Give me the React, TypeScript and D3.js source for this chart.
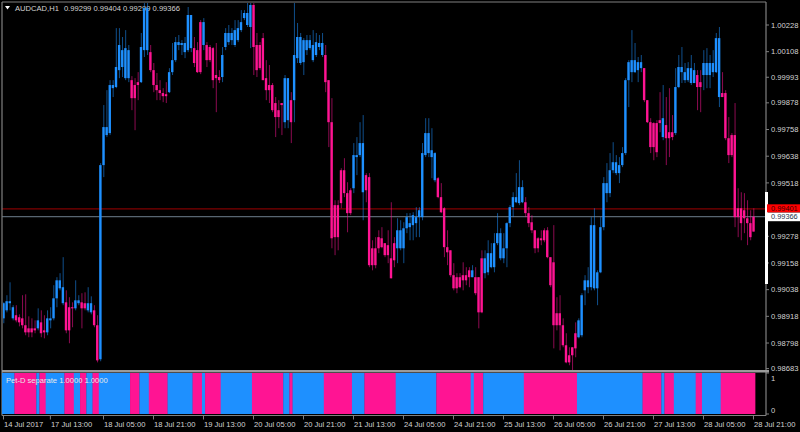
import React from 'react';
import * as d3 from 'd3';

const symbolTitle = 'AUDCAD,H1';
const headerValues = ['0.99299', '0.99404', '0.99299', '0.99366'];
const indicatorTitle = 'Pet-D separate 1.0000 1.0000';
const askPrice = 0.99401;
const bidPrice = 0.99366;

const highs = [
  0.98981, 0.99013, 0.99071, 0.98968, 0.98968, 0.98927, 0.99013, 0.99017, 0.98918, 0.98909,
  0.98900, 0.98954, 0.98945, 0.98923, 0.98945, 0.98959, 0.99058, 0.99094, 0.99112, 0.99184,
  0.99035, 0.99004, 0.98981, 0.99080, 0.99013, 0.99022, 0.99026, 0.99049, 0.99008, 0.98968,
  0.98923, 0.99607, 0.99868, 0.99935, 0.99980, 0.99980, 1.00214, 1.00214, 1.00174, 1.00205,
  1.00138, 0.99998, 0.99989, 1.00016, 1.00192, 1.00331, 1.00331, 1.00138, 1.00057, 1.00012,
  0.99980, 0.99944, 0.99971, 1.00034, 1.00147, 1.00174, 1.00183, 1.00160, 1.00174, 1.00309,
  1.00273, 1.00174, 1.00151, 1.00250, 1.00259, 1.00151, 1.00138, 1.00129, 1.00147, 1.00025,
  1.00129, 1.00214, 1.00228, 1.00214, 1.00250, 1.00250, 1.00295, 1.00295, 1.00331, 1.00327,
  1.00327, 1.00192, 1.00151, 1.00192, 1.00070, 1.00048, 0.99967, 0.99904, 0.99890, 0.99877,
  1.00003, 0.99989, 0.99926, 1.00331, 1.00237, 1.00192, 1.00169, 1.00183, 1.00183, 1.00205,
  1.00192, 1.00183, 1.00192, 1.00138, 0.99980, 0.99899, 0.99440, 0.99440, 0.99584, 0.99629,
  0.99521, 0.99494, 0.99697, 0.99724, 0.99791, 0.99823, 0.99562, 0.99562, 0.99260, 0.99274,
  0.99305, 0.99319, 0.99247, 0.99305, 0.99431, 0.99274, 0.99359, 0.99350, 0.99341, 0.99382,
  0.99382, 0.99386, 0.99409, 0.99409, 0.99697, 0.99809, 0.99809, 0.99764, 0.99656, 0.99544,
  0.99517, 0.99409, 0.99305, 0.99215, 0.99157, 0.99112, 0.99112, 0.99161, 0.99139, 0.99139,
  0.99148, 0.99139, 0.99094, 0.99215, 0.99215, 0.99260, 0.99247, 0.99292, 0.99382, 0.99314,
  0.99292, 0.99341, 0.99418, 0.99476, 0.99562, 0.99620, 0.99530, 0.99454, 0.99409, 0.99373,
  0.99305, 0.99274, 0.99305, 0.99314, 0.99319, 0.99184, 0.99328, 0.99004, 0.99013, 0.98909,
  0.98842, 0.98779, 0.98779, 0.98891, 0.98909, 0.99022, 0.99103, 0.99139, 0.99364, 0.99404,
  0.99125, 0.99364, 0.99544, 0.99607, 0.99652, 0.99701, 0.99643, 0.99634, 0.99679, 0.99989,
  1.00070, 1.00205, 1.00147, 1.00084, 1.00093, 1.00034, 0.99890, 0.99809, 0.99791, 0.99800,
  0.99926, 0.99958, 0.99904, 0.99944, 0.99823, 1.00034, 1.00093, 1.00129, 1.00057, 1.00061,
  1.00093, 1.00057, 1.00025, 1.00025, 1.00115, 1.00124, 1.00093, 1.00115, 1.00192, 1.00219,
  1.00016, 0.99935, 0.99814, 0.99742, 0.99877, 0.99494, 0.99476, 0.99472, 0.99440, 0.99395,
  0.99404,
];

const lows = [
  0.98887, 0.98936, 0.98945, 0.98900, 0.98891, 0.98873, 0.98864, 0.98833, 0.98824, 0.98824,
  0.98842, 0.98855, 0.98824, 0.98819, 0.98833, 0.98864, 0.98900, 0.98959, 0.99035, 0.98968,
  0.98842, 0.98797, 0.98869, 0.98945, 0.98968, 0.98864, 0.98945, 0.98936, 0.98927, 0.98869,
  0.98711, 0.98716, 0.99544, 0.99724, 0.99733, 0.99904, 0.99944, 0.99989, 0.99994, 0.99980,
  0.99971, 0.99845, 0.99755, 0.99890, 0.99967, 1.00084, 1.00093, 1.00016, 0.99926, 0.99890,
  0.99890, 0.99881, 0.99877, 0.99922, 1.00003, 1.00061, 1.00115, 1.00093, 1.00079, 1.00106,
  1.00106, 1.00039, 1.00012, 1.00007, 1.00115, 1.00039, 1.00061, 0.99944, 0.99836, 0.99967,
  0.99971, 1.00115, 1.00138, 1.00138, 1.00129, 1.00151, 1.00196, 1.00250, 1.00219, 1.00124,
  1.00003, 0.99994, 1.00025, 0.99980, 0.99890, 0.99877, 0.99836, 0.99724, 0.99764, 0.99733,
  0.99764, 0.99764, 0.99697, 0.99791, 1.00057, 1.00048, 1.00003, 1.00093, 1.00115, 1.00061,
  1.00084, 1.00115, 1.00084, 0.99926, 0.99679, 0.99224, 0.99193, 0.99215, 0.99404, 0.99454,
  0.99296, 0.99373, 0.99472, 0.99553, 0.99634, 0.99350, 0.99431, 0.99139, 0.99125, 0.99134,
  0.99202, 0.99224, 0.99184, 0.99157, 0.99089, 0.99139, 0.99157, 0.99215, 0.99157, 0.99292,
  0.99260, 0.99260, 0.99274, 0.99274, 0.99350, 0.99634, 0.99634, 0.99539, 0.99521, 0.99449,
  0.99382, 0.99184, 0.99148, 0.99094, 0.99035, 0.99022, 0.99044, 0.99035, 0.99058, 0.99049,
  0.99094, 0.99013, 0.98864, 0.98932, 0.99089, 0.99103, 0.99134, 0.99116, 0.99238, 0.99170,
  0.99157, 0.99139, 0.99319, 0.99364, 0.99427, 0.99418, 0.99427, 0.99364, 0.99319, 0.99292,
  0.99202, 0.99206, 0.99238, 0.99251, 0.99179, 0.99049, 0.98774, 0.98855, 0.98765, 0.98779,
  0.98707, 0.98698, 0.98675, 0.98734, 0.98819, 0.98824, 0.98968, 0.99022, 0.99035, 0.99035,
  0.98968, 0.99112, 0.99305, 0.99431, 0.99454, 0.99562, 0.99553, 0.99517, 0.99589, 0.99643,
  0.99859, 0.99971, 1.00012, 0.99971, 1.00016, 0.99881, 0.99787, 0.99652, 0.99620, 0.99634,
  0.99746, 0.99710, 0.99598, 0.99634, 0.99710, 0.99733, 0.99944, 0.99967, 0.99967, 0.99971,
  0.99958, 0.99967, 0.99845, 0.99836, 0.99935, 0.99944, 0.99944, 0.99994, 1.00012, 0.99859,
  0.99904, 0.99710, 0.99607, 0.99634, 0.99319, 0.99274, 0.99260, 0.99292, 0.99238, 0.99260,
  0.99299,
];

const opens = [
  0.98977, 0.98945, 0.98986, 0.98959, 0.98923, 0.98914, 0.98909, 0.98878, 0.98864, 0.98846,
  0.98864, 0.98864, 0.98891, 0.98855, 0.98846, 0.98909, 0.98909, 0.98999, 0.99080, 0.99049,
  0.98981, 0.98855, 0.98959, 0.98954, 0.98990, 0.98981, 0.98954, 0.98945, 0.98977, 0.98945,
  0.98878, 0.98725, 0.99598, 0.99733, 0.99742, 0.99944, 0.99949, 1.00025, 1.00115, 1.00124,
  0.99989, 0.99980, 0.99899, 0.99958, 0.99971, 1.00115, 1.00304, 1.00106, 1.00025, 0.99958,
  0.99935, 0.99922, 0.99908, 0.99926, 1.00016, 1.00070, 1.00151, 1.00138, 1.00147, 1.00115,
  1.00273, 1.00124, 1.00115, 1.00016, 1.00241, 1.00138, 1.00070, 1.00124, 0.99989, 0.99994,
  0.99994, 1.00129, 1.00192, 1.00160, 1.00138, 1.00160, 1.00205, 1.00259, 1.00282, 1.00219,
  1.00318, 1.00138, 1.00034, 1.00169, 0.99989, 0.99935, 0.99958, 0.99877, 0.99814, 0.99877,
  0.99791, 0.99989, 0.99890, 0.99890, 1.00079, 1.00174, 1.00061, 1.00160, 1.00124, 1.00138,
  1.00093, 1.00147, 1.00147, 1.00093, 0.99980, 0.99791, 0.99274, 0.99418, 0.99427, 0.99575,
  0.99472, 0.99382, 0.99494, 0.99643, 0.99643, 0.99697, 0.99553, 0.99544, 0.99148, 0.99224,
  0.99224, 0.99269, 0.99247, 0.99193, 0.99179, 0.99170, 0.99224, 0.99305, 0.99224, 0.99314,
  0.99337, 0.99328, 0.99337, 0.99364, 0.99364, 0.99643, 0.99742, 0.99634, 0.99652, 0.99539,
  0.99454, 0.99404, 0.99229, 0.99215, 0.99103, 0.99044, 0.99094, 0.99080, 0.99103, 0.99094,
  0.99094, 0.99094, 0.99094, 0.98936, 0.99179, 0.99116, 0.99139, 0.99139, 0.99247, 0.99292,
  0.99179, 0.99224, 0.99337, 0.99409, 0.99454, 0.99427, 0.99499, 0.99431, 0.99382, 0.99341,
  0.99305, 0.99224, 0.99269, 0.99260, 0.99305, 0.99184, 0.99161, 0.98878, 0.98932, 0.98878,
  0.98788, 0.98711, 0.98743, 0.98774, 0.98824, 0.98833, 0.99035, 0.99049, 0.99049, 0.99328,
  0.99044, 0.99116, 0.99319, 0.99472, 0.99472, 0.99575, 0.99611, 0.99562, 0.99598, 0.99652,
  0.99980, 1.00016, 1.00070, 1.00025, 1.00061, 1.00034, 0.99890, 0.99791, 0.99679, 0.99787,
  0.99787, 0.99724, 0.99778, 0.99719, 0.99746, 0.99742, 0.99949, 1.00039, 1.00016, 0.99980,
  1.00034, 0.99967, 1.00003, 0.99949, 1.00003, 1.00057, 1.00003, 1.00057, 1.00016, 1.00169,
  0.99904, 0.99922, 0.99719, 0.99643, 0.99733, 0.99364, 0.99404, 0.99395, 0.99359, 0.99337,
  0.99299,
];

const closes = [
  0.98909, 0.98986, 0.98977, 0.98909, 0.98900, 0.98891, 0.98878, 0.98846, 0.98846, 0.98864,
  0.98855, 0.98900, 0.98842, 0.98846, 0.98909, 0.98900, 0.98999, 0.99080, 0.99044, 0.98977,
  0.98855, 0.98959, 0.98954, 0.98990, 0.98977, 0.98954, 0.98977, 0.98977, 0.98936, 0.98878,
  0.98720, 0.99598, 0.99769, 0.99769, 0.99958, 0.99958, 1.00039, 1.00138, 1.00039, 0.99989,
  1.00115, 0.99899, 0.99958, 0.99971, 1.00129, 1.00304, 1.00115, 1.00025, 0.99958, 0.99935,
  0.99922, 0.99908, 0.99917, 1.00016, 1.00070, 1.00151, 1.00138, 1.00147, 1.00106, 1.00273,
  1.00124, 1.00057, 1.00016, 1.00241, 1.00138, 1.00070, 1.00129, 0.99980, 1.00003, 0.99980,
  1.00093, 1.00192, 1.00151, 1.00192, 1.00205, 1.00214, 1.00241, 1.00282, 1.00228, 1.00318,
  1.00129, 1.00025, 1.00138, 0.99980, 0.99935, 0.99958, 0.99845, 0.99814, 0.99845, 0.99868,
  0.99989, 0.99800, 0.99791, 1.00093, 1.00174, 1.00057, 1.00160, 1.00115, 1.00160, 1.00070,
  1.00151, 1.00129, 1.00093, 0.99971, 0.99791, 0.99269, 0.99418, 0.99274, 0.99575, 0.99472,
  0.99382, 0.99485, 0.99643, 0.99634, 0.99697, 0.99476, 0.99485, 0.99148, 0.99224, 0.99148,
  0.99274, 0.99229, 0.99193, 0.99238, 0.99089, 0.99247, 0.99305, 0.99224, 0.99314, 0.99364,
  0.99319, 0.99373, 0.99364, 0.99395, 0.99652, 0.99742, 0.99652, 0.99665, 0.99530, 0.99454,
  0.99386, 0.99229, 0.99206, 0.99103, 0.99044, 0.99094, 0.99049, 0.99103, 0.99080, 0.99125,
  0.99125, 0.99022, 0.98936, 0.99179, 0.99112, 0.99202, 0.99202, 0.99247, 0.99292, 0.99179,
  0.99224, 0.99337, 0.99409, 0.99454, 0.99431, 0.99499, 0.99431, 0.99382, 0.99337, 0.99305,
  0.99224, 0.99269, 0.99260, 0.99305, 0.99184, 0.99058, 0.98878, 0.98932, 0.98878, 0.98788,
  0.98711, 0.98743, 0.98779, 0.98842, 0.98900, 0.99013, 0.99080, 0.99080, 0.99328, 0.99044,
  0.99116, 0.99319, 0.99517, 0.99517, 0.99575, 0.99611, 0.99562, 0.99598, 0.99652, 0.99980,
  1.00061, 1.00070, 1.00016, 1.00061, 1.00034, 0.99890, 0.99791, 0.99679, 0.99787, 0.99656,
  0.99800, 0.99809, 0.99719, 0.99746, 0.99724, 0.99949, 1.00039, 1.00016, 0.99980, 1.00034,
  0.99967, 1.00025, 0.99949, 0.99971, 1.00057, 1.00003, 1.00057, 1.00016, 1.00169, 0.99904,
  0.99922, 0.99719, 0.99643, 0.99733, 0.99364, 0.99404, 0.99337, 0.99359, 0.99337, 0.99274,
  0.99366,
];

// Pet-D state per bar as runs: [state (1 = blue, 0 = pink), number of bars]
const stateRuns: [number, number][] = [
  [1, 4], [0, 7], [1, 1], [0, 2], [1, 6], [0, 3], [1, 2], [0, 2], [1, 2], [0, 2],
  [1, 10], [0, 3], [1, 3], [0, 6], [1, 8], [0, 3], [1, 1], [0, 5], [1, 10], [0, 10],
  [1, 2], [0, 1], [1, 10], [0, 9], [1, 4], [0, 10], [1, 13], [0, 11], [1, 1], [0, 3],
  [1, 13], [0, 17], [1, 21], [0, 6], [1, 1], [0, 3], [1, 7], [0, 2], [1, 6], [0, 11],
];

const priceTicks = [
  1.00228, 1.00108, 0.99993, 0.99878, 0.99758, 0.99638, 0.99518,
  0.99278, 0.99158, 0.99038, 0.98918, 0.98798, 0.98683,
];

const timeLabels = [
  '14 Jul 2017', '17 Jul 13:00', '18 Jul 05:00', '18 Jul 21:00', '19 Jul 13:00',
  '20 Jul 05:00', '20 Jul 21:00', '21 Jul 13:00', '24 Jul 05:00', '24 Jul 21:00',
  '25 Jul 13:00', '26 Jul 05:00', '26 Jul 21:00', '27 Jul 13:00', '28 Jul 05:00',
  '28 Jul 21:00',
];
const timeLabelBars = [0, 15, 32, 48, 64, 80, 96, 112, 128, 144, 160, 176, 192, 208, 224, 240];

const BLUE = '#1e90ff';
const PINK = '#ff1493';
const GRID = '#808080';
const TEXT = '#d4d4d4';
const FONT = '"Liberation Sans", Arial, sans-serif';

export default function App() {
  const W = 800;
  const H = 432;
  const left = 2;
  const axisX = 766;
  const top = 2;
  const mainBottom = 370;
  const indTop = 373;
  const indBottom = 414;
  const bottomAxisY = 415.5;

  const n = closes.length;
  const states: number[] = [];
  const runs: { start: number; count: number; s: number }[] = [];
  stateRuns.forEach(([s, c]) => {
    runs.push({ start: states.length, count: c, s });
    for (let k = 0; k < c; k++) states.push(s);
  });

  const x = d3.scaleBand<number>().domain(d3.range(n)).range([1.94, 755.06]).padding(0);
  const bw = x.bandwidth();
  const cx = (i: number) => (x(i) as number) + bw / 2;
  const y = d3.scaleLinear().domain([0.98683, 1.00228]).range([368.6, 25]);
  const yi = d3.scaleLinear().domain([0, 1]).range([indBottom, indTop]);

  const bodyW = 2.4;
  const askY = y(askPrice);
  const bidY = y(bidPrice);

  return (
    <svg width={W} height={H} viewBox={`0 0 ${W} ${H}`}
      style={{ position: 'absolute', left: 0, top: 0, background: '#000', display: 'block' }}>
      <defs>
        <clipPath id="mainClip">
          <rect x={left + 1} y={top + 1} width={axisX - left - 1} height={mainBottom - top - 1} />
        </clipPath>
      </defs>
      <rect x={0} y={0} width={W} height={H} fill="#000" />

      {/* header */}
      <path d="M5,6 L10,6 L7.5,9.5 Z" fill="#ffffff" />
      <text x={15} y={11} fill={TEXT} fontSize={7.6} fontFamily={FONT}>
        {symbolTitle}
        <tspan dx={5}>{headerValues.join(' ')}</tspan>
      </text>

      {/* price lines */}
      <line x1={left} x2={axisX} y1={askY} y2={askY} stroke="#a00000" strokeWidth={1} />
      <line x1={left} x2={axisX} y1={bidY} y2={bidY} stroke="#6f7f8f" strokeWidth={1} />

      {/* candles */}
      <g clipPath="url(#mainClip)">
        {closes.map((c, i) => {
          const col = states[i] === 1 ? BLUE : PINK;
          const o = opens[i];
          const yTop = y(Math.max(o, c));
          const yBot = y(Math.min(o, c));
          return (
            <g key={i}>
              <line x1={cx(i) + 0.3} x2={cx(i) + 0.3} y1={y(highs[i])} y2={y(lows[i])}
                stroke={col} strokeWidth={1} strokeOpacity={0.55} />
              <rect x={cx(i) - bodyW / 2} y={yTop} width={bodyW}
                height={Math.max(1, yBot - yTop)} fill={col} />
            </g>
          );
        })}
      </g>

      {/* frame */}
      <line x1={left} x2={axisX} y1={top} y2={top} stroke={GRID} strokeWidth={1.2} />
      <line x1={left} x2={left} y1={top} y2={bottomAxisY} stroke={GRID} strokeWidth={1.2} />
      <line x1={axisX} x2={axisX} y1={top} y2={bottomAxisY} stroke={GRID} strokeWidth={1.2} />
      <rect x={left} y={mainBottom} width={axisX - left + 3} height={2.5} fill="#9a9a9a" />
      <line x1={left} x2={axisX} y1={bottomAxisY} y2={bottomAxisY} stroke={GRID} strokeWidth={1.2} />

      {/* price axis */}
      {priceTicks.map((p) => (
        <g key={p}>
          <line x1={axisX} x2={axisX + 3} y1={y(p)} y2={y(p)} stroke={GRID} />
          <text x={771} y={y(p)} dy="0.35em" fill={TEXT} fontSize={7.6} fontFamily={FONT}>
            {p.toFixed(5)}
          </text>
        </g>
      ))}
      <rect x={765} y={192} width={3} height={92} fill="#ffffff" />

      {/* ask / bid labels */}
      <rect x={767} y={askY - 4.6} width={33} height={8.2} fill="#ff0000" />
      <text x={771} y={askY - 0.6} dy="0.35em" fill="#3a0000" fontSize={7.4} fontFamily={FONT}>
        {askPrice.toFixed(5)}
      </text>
      <rect x={767} y={bidY - 4.1} width={33} height={8.6} fill="#ffffff" />
      <text x={771} y={bidY + 0.2} dy="0.35em" fill="#203048" fontSize={7.4} fontFamily={FONT}>
        {bidPrice.toFixed(5)}
      </text>

      {/* indicator panel */}
      {runs.map((r) => (
        <rect key={r.start} x={x(r.start) as number} y={yi(1)} width={bw * r.count + 0.3}
          height={yi(0) - yi(1)} fill={r.s === 1 ? BLUE : PINK} />
      ))}
      <text x={6} y={383} fill="#e8e8e8" fontSize={7.6} fontFamily={FONT}>{indicatorTitle}</text>
      {[1, 0].map((v) => (
        <g key={v}>
          <line x1={axisX} x2={axisX + 3} y1={yi(v)} y2={yi(v)} stroke={GRID} />
          <text x={771} y={v === 1 ? yi(v) + 5 : yi(v) - 4} dy="0.35em" fill={TEXT}
            fontSize={7.6} fontFamily={FONT}>{v}</text>
        </g>
      ))}

      {/* time axis */}
      {timeLabelBars.map((b, k) => (
        <g key={b}>
          <line x1={cx(b)} x2={cx(b)} y1={bottomAxisY} y2={bottomAxisY + 4} stroke={GRID} />
          <text x={cx(b) + 0.5} y={427} fill={TEXT} fontSize={7.6} fontFamily={FONT}>
            {timeLabels[k]}
          </text>
        </g>
      ))}
    </svg>
  );
}
